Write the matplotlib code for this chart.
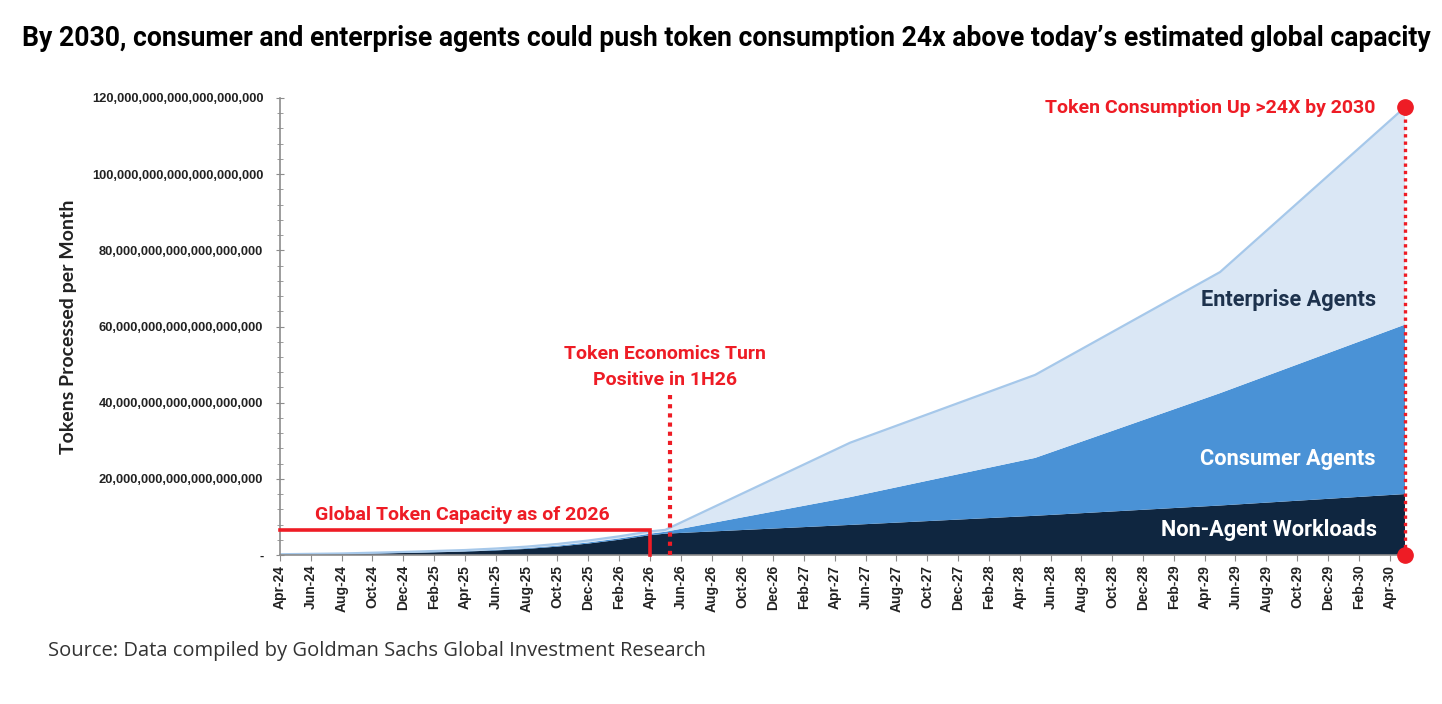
import numpy as np
import matplotlib
matplotlib.use("Agg")
from matplotlib import pyplot as plt
from matplotlib.ticker import MultipleLocator, FuncFormatter

# month index: 0 = Apr-24, 73 = May-30 ; values in quintillion (1e18) tokens / month
months = [0, 2, 4, 6, 8, 10, 12, 14, 16, 18, 20, 22, 24, 25, 37, 49, 61, 73]
non_agent = [0.15, 0.2, 0.3, 0.4, 0.55, 0.7, 0.9, 1.2, 1.6, 2.2, 3.0, 4.0, 5.2, 5.6, 7.9, 10.3, 13.0, 16.0]
consumer = [0.0, 0.0, 0.0, 0.05, 0.05, 0.1, 0.1, 0.15, 0.2, 0.25, 0.3, 0.35, 0.4, 0.5, 7.3, 15.2, 29.5, 44.5]
enterprise = [0.05, 0.1, 0.1, 0.15, 0.2, 0.25, 0.3, 0.35, 0.4, 0.45, 0.5, 0.55, 0.6, 0.5, 14.3, 21.8, 31.8, 57.1]

month_names = ["Apr", "Jun", "Aug", "Oct", "Dec", "Feb"]
tick_labels = []
for i in range(37):
    m = 2 * i
    yr = 24 + (m + 3) // 12
    tick_labels.append(f"{month_names[i % 6]}-{yr}")

capacity_2026 = 6.6
y_ticks = [0, 20, 40, 60, 80, 100, 120]

NAVY = "#0f2640"
MID = "#4a92d6"
LIGHT = "#dae7f5"
EDGE = "#a6c8ea"
RED = "#ee1c25"

fig = plt.figure(figsize=(14.42, 7.04), dpi=100)
ax = fig.add_axes([280 / 1442, 1 - 555 / 704, (1405 - 280) / 1442, (555 - 98) / 704])

ax.stackplot(months, non_agent, consumer, enterprise,
             colors=[NAVY, MID, LIGHT], linewidth=0)
total = np.array(non_agent) + np.array(consumer) + np.array(enterprise)
ax.plot(months, total, color=EDGE, lw=1.6)

ax.set_xlim(0, 73)
ax.set_ylim(0, 120)

# axes style
for s in ["top", "right"]:
    ax.spines[s].set_visible(False)
for s in ["left", "bottom"]:
    ax.spines[s].set_color("#8c8c8c")
    ax.spines[s].set_linewidth(1.2)

tick_font = ["Liberation Sans", "DejaVu Sans"]
ax.set_yticks(y_ticks)
ax.yaxis.set_minor_locator(MultipleLocator(4))
ax.yaxis.set_major_formatter(FuncFormatter(lambda v, p: "-" if v == 0 else f"{int(round(v)) * 10**18:,}"))
ax.tick_params(axis="y", which="major", direction="inout", length=6, color="#8c8c8c",
               labelsize=9.3, pad=9)
ax.tick_params(axis="y", which="minor", direction="inout", length=4, color="#8c8c8c")
ax.set_xticks(np.arange(0, 73, 2))
ax.set_xticklabels(tick_labels, rotation=90)
ax.tick_params(axis="x", direction="out", length=4, color="#8c8c8c", labelsize=10, pad=3)
for lab in ax.get_yticklabels() + ax.get_xticklabels():
    lab.set_family(tick_font)
    lab.set_fontweight("bold")
    lab.set_color("#222222")

ax.set_ylabel("Tokens Processed per Month", fontsize=14, fontweight="bold",
              family=["Lato", "DejaVu Sans"], color="#222222")
ax.yaxis.set_label_coords((77 - 280) / 1125, 0.5)

# annotations
ann_font = ["Roboto", "DejaVu Sans"]
ax.plot([0, 24, 24], [capacity_2026, capacity_2026, 0], color=RED, lw=2.6,
        solid_joinstyle="miter", clip_on=False, zorder=5)
ax.text(2.3, 10.5, "Global Token Capacity as of 2026", color=RED, fontsize=14,
        fontweight="bold", family=ann_font, ha="left", va="center")

ax.plot([25.3, 25.3], [0, 42], color=RED, lw=3, ls=(0, (1, 1.2)), zorder=5)
ax.text(25.0, 49.3, "Token Economics Turn\nPositive in 1H26", color=RED, fontsize=14,
        fontweight="bold", family=ann_font, ha="center", va="center", linespacing=1.55)

ax.plot([73, 73], [0, total[-1]], color=RED, lw=2.4, ls=(0, (1, 1.2)), zorder=5, clip_on=False)
ax.plot([73, 73], [0, total[-1]], "o", color=RED, ms=11, zorder=6, clip_on=False)
ax.text(71.1, 117.4, "Token Consumption Up >24X by 2030", color=RED, fontsize=14,
        fontweight="bold", family=ann_font, ha="right", va="center")

ax.text(71.1, 67, "Enterprise Agents", color="#1d324d", fontsize=15.7,
        fontweight="bold", family=ann_font, ha="right", va="center")
ax.text(71.1, 25.2, "Consumer Agents", color="white", fontsize=15.7,
        fontweight="bold", family=ann_font, ha="right", va="center")
ax.text(71.2, 6.6, "Non-Agent Workloads", color="white", fontsize=15.7,
        fontweight="bold", family=ann_font, ha="right", va="center")

fig.text(22 / 1442, 1 - 38 / 704,
         "By 2030, consumer and enterprise agents could push token consumption 24x above today\u2019s estimated global capacity",
         fontsize=19.2, fontweight="bold", family=["Roboto", "DejaVu Sans"], ha="left", va="center")
fig.text(48 / 1442, 1 - 651 / 704,
         "Source: Data compiled by Goldman Sachs Global Investment Research",
         fontsize=14.5, family=["Open Sans", "DejaVu Sans"], color="#333333", ha="left", va="center")

fig.savefig("out.png", dpi=100)
